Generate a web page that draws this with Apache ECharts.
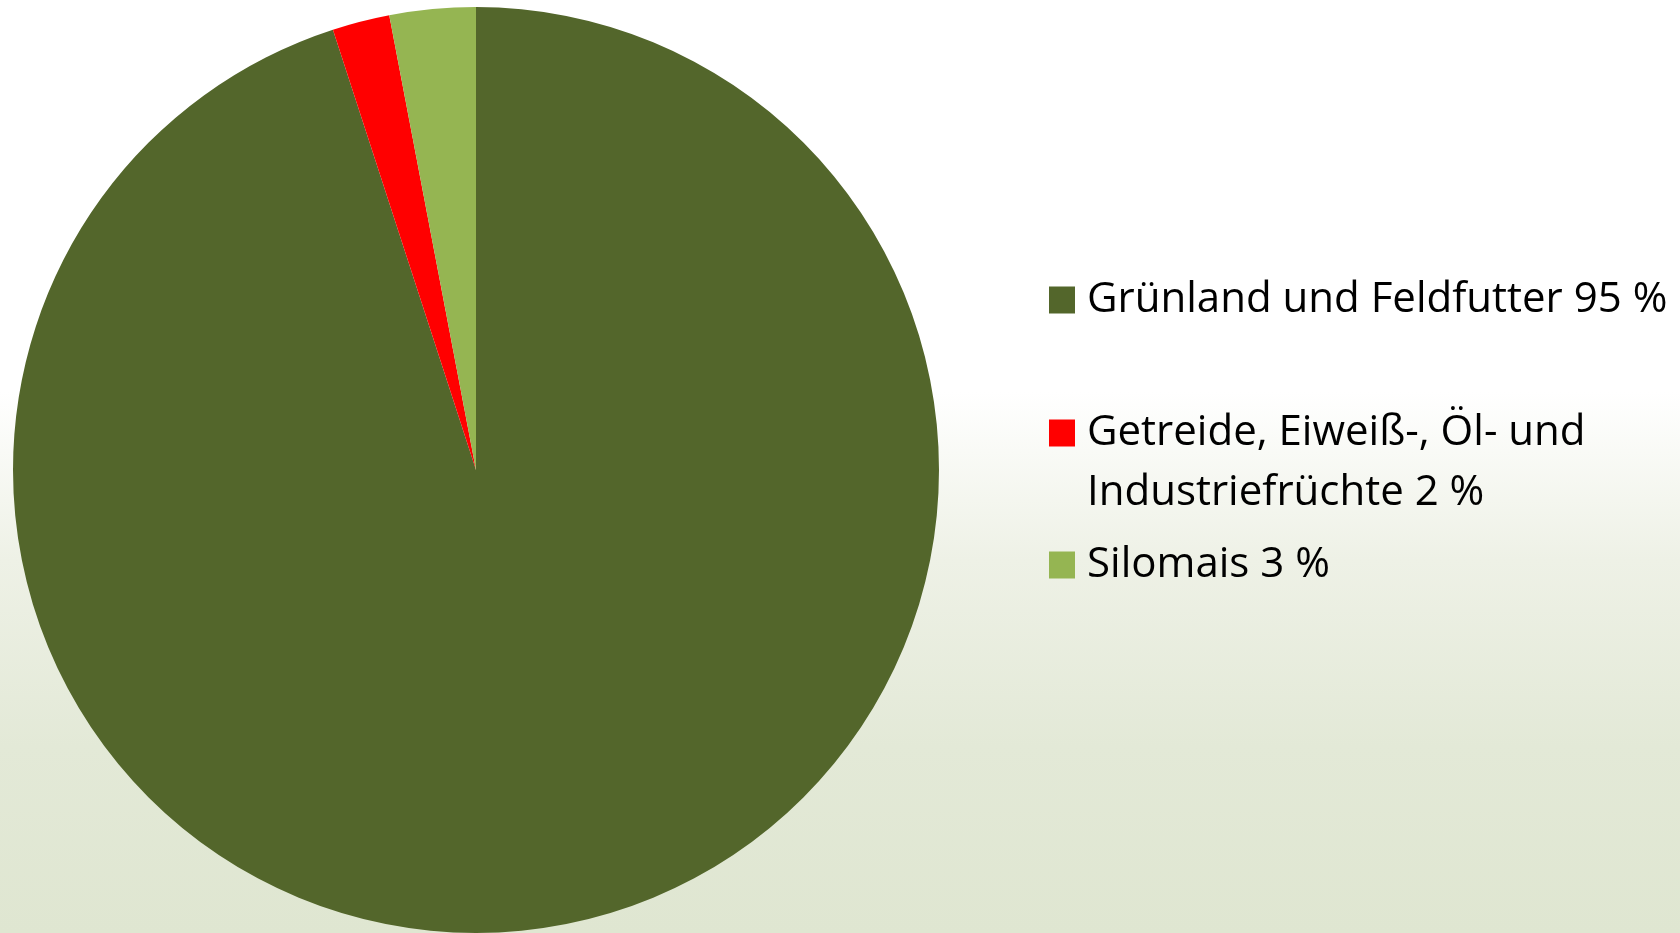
<!DOCTYPE html>
<html>
<head>
<meta charset="utf-8">
<script src="https://cdn.jsdelivr.net/npm/echarts@6/dist/echarts.min.js"></script>
<style>
html,body{margin:0;padding:0;background:#fff;}
#chart{width:1680px;height:933px;}
</style>
</head>
<body>
<div id="chart"></div>
<script>
const categories = ['Grünland und Feldfutter', 'Getreide, Eiweiß-, Öl- und Industriefrüchte', 'Silomais'];
const values = [95, 2, 3];
const colors = ['#53662B', '#FF0000', '#95B552'];

const chart = echarts.init(document.getElementById('chart'), null, {renderer: 'canvas'});
const font = '"Open Sans", "Noto Sans", sans-serif';
const valueOf = {};
categories.forEach((c, i) => valueOf[c] = values[i]);

function legendFor(i, top) {
  return {
    orient: 'vertical',
    left: 1044,
    top: top,
    itemWidth: 26,
    itemHeight: 27,
    icon: 'rect',
    selectedMode: false,
    data: [categories[i]],
    formatter: function (name) {
      let t = name + ' ' + valueOf[name] + ' %';
      if (t.indexOf(' Industrie') >= 0) {
        t = '\n' + t.replace(' Industrie', '\nIndustrie');
      }
      return t;
    },
    textStyle: {
      fontFamily: font,
      fontSize: 42,
      color: '#000',
      lineHeight: 60,
      padding: [0, 0, 0, 7]
    }
  };
}

const option = {
  backgroundColor: {
    type: 'linear', x: 0, y: 0, x2: 0, y2: 1,
    colorStops: [
      {offset: 0, color: '#ffffff'},
      {offset: 0.42, color: '#ffffff'},
      {offset: 0.6, color: '#eef1e6'},
      {offset: 0.8, color: '#e3e9d7'},
      {offset: 1, color: '#dfe6d1'}
    ]
  },
  legend: [
    legendFor(0, 265),
    legendFor(1, 338),
    legendFor(2, 530)
  ],
  series: [{
    type: 'pie',
    center: [476, 470],
    radius: [0, 463],
    startAngle: 90,
    clockwise: true,
    label: {show: false},
    labelLine: {show: false},
    silent: true,
    animation: false,
    itemStyle: {borderWidth: 0},
    data: categories.map((c, i) => ({name: c, value: values[i], itemStyle: {color: colors[i]}}))
  }]
};
chart.setOption(option);
</script>
</body>
</html>
